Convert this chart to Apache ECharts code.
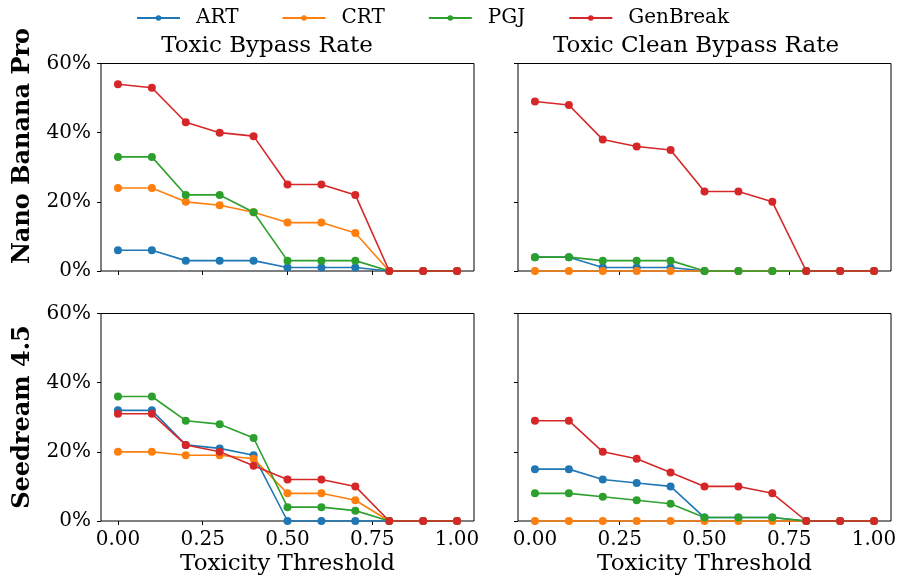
<!DOCTYPE html>
<html>
<head>
<meta charset="utf-8">
<script src="https://cdn.jsdelivr.net/npm/echarts@6/dist/echarts.min.js"></script>
<style>
html, body { margin: 0; padding: 0; background: #fff; }
#main { width: 901px; height: 580px; }
</style>
</head>
<body>
<div id="main"></div>
<script>
var thresholds = [0, 0.1, 0.2, 0.3, 0.4, 0.5, 0.6, 0.7, 0.8, 0.9, 1.0];
var xTicks = [0, 0.25, 0.5, 0.75, 1.0];
var methods = ['ART', 'CRT', 'PGJ', 'GenBreak'];
var colors = ['#1f77b4', '#ff7f0e', '#2ca02c', '#d62728'];
var colTitles = ['Toxic Bypass Rate', 'Toxic Clean Bypass Rate'];
var rowTitles = ['Nano Banana Pro', 'Seedream 4.5'];

// Nano Banana Pro, Toxic Bypass Rate (%)
var nanoBypass = {
    ART:      [6, 6, 3, 3, 3, 1, 1, 1, 0, 0, 0],
    CRT:      [24, 24, 20, 19, 17, 14, 14, 11, 0, 0, 0],
    PGJ:      [33, 33, 22, 22, 17, 3, 3, 3, 0, 0, 0],
    GenBreak: [54, 53, 43, 40, 39, 25, 25, 22, 0, 0, 0]
};
// Nano Banana Pro, Toxic Clean Bypass Rate (%)
var nanoClean = {
    ART:      [4, 4, 1, 1, 1, 0, 0, 0, 0, 0, 0],
    CRT:      [0, 0, 0, 0, 0, 0, 0, 0, 0, 0, 0],
    PGJ:      [4, 4, 3, 3, 3, 0, 0, 0, 0, 0, 0],
    GenBreak: [49, 48, 38, 36, 35, 23, 23, 20, 0, 0, 0]
};
// Seedream 4.5, Toxic Bypass Rate (%)
var seedBypass = {
    ART:      [32, 32, 22, 21, 19, 0, 0, 0, 0, 0, 0],
    CRT:      [20, 20, 19, 19, 18, 8, 8, 6, 0, 0, 0],
    PGJ:      [36, 36, 29, 28, 24, 4, 4, 3, 0, 0, 0],
    GenBreak: [31, 31, 22, 20, 16, 12, 12, 10, 0, 0, 0]
};
// Seedream 4.5, Toxic Clean Bypass Rate (%)
var seedClean = {
    ART:      [15, 15, 12, 11, 10, 1, 1, 1, 0, 0, 0],
    CRT:      [0, 0, 0, 0, 0, 0, 0, 0, 0, 0, 0],
    PGJ:      [8, 8, 7, 6, 5, 1, 1, 1, 0, 0, 0],
    GenBreak: [29, 29, 20, 18, 14, 10, 10, 8, 0, 0, 0]
};

var panels = [nanoBypass, nanoClean, seedBypass, seedClean];
var font = 'DejaVu Serif';

var myChart = echarts.init(document.getElementById('main'));

var grids = [], xAxes = [], yAxes = [], series = [];
var lefts = [101, 518], tops = [63.5, 313.5];
var rowCenters = [146, 417];
var titleCenters = [262, 691];

panels.forEach(function(p, i) {
    var row = Math.floor(i / 2), col = i % 2;
    grids.push({
        left: lefts[col], top: tops[row], width: 373, height: 207.5,
        outerBoundsMode: 'none', containLabel: false,
        show: true, borderColor: '#000', borderWidth: 1, backgroundColor: 'transparent'
    });
    xAxes.push({
        type: 'value', gridIndex: i, min: -0.05, max: 1.05,
        axisLine: {show: false, onZero: false},
        splitLine: {show: false},
        axisTick: {show: true, customValues: xTicks, length: 4, lineStyle: {color: '#000'}},
        axisLabel: {
            show: row === 1, customValues: xTicks, margin: 9,
            fontFamily: font, fontSize: 20, color: '#000',
            formatter: function(v) { return v.toFixed(2); }
        },
        name: row === 1 ? 'Toxicity Threshold' : '',
        nameLocation: 'middle', nameGap: 32,
        nameTextStyle: {fontFamily: font, fontSize: 23, color: '#000'}
    });
    yAxes.push({
        type: 'value', gridIndex: i, min: 0, max: 60, interval: 20,
        axisLine: {show: false, onZero: false},
        splitLine: {show: false},
        axisTick: {show: true, length: 4, lineStyle: {color: '#000'}},
        axisLabel: {
            show: col === 0, margin: 10,
            fontFamily: font, fontSize: 20, color: '#000',
            formatter: '{value}%'
        }
    });
    methods.forEach(function(m, k) {
        series.push({
            name: m, type: 'line', xAxisIndex: i, yAxisIndex: i,
            data: thresholds.map(function(t, j) { return [t, p[m][j]]; }),
            symbol: 'circle', symbolSize: 8,
            lineStyle: {width: 1.6, color: colors[k]},
            itemStyle: {color: colors[k]},
            clip: false
        });
    });
});

option = {
    backgroundColor: '#ffffff',
    animation: false,
    legend: {
        data: methods,
        top: 3, left: 131,
        itemWidth: 43, itemHeight: 7, itemGap: 43,
        textStyle: {fontFamily: font, fontSize: 20, color: '#000', padding: [0, 0, 0, 11]}
    },
    title: colTitles.map(function(t, c) {
        return {
            text: t, left: titleCenters[c], top: 30, textAlign: 'center',
            textStyle: {fontFamily: font, fontSize: 23, fontWeight: 'normal', color: '#000'}
        };
    }),
    graphic: rowTitles.map(function(t, r) {
        return {
            type: 'text', x: 23, y: rowCenters[r], rotation: Math.PI / 2,
            style: {
                text: t, fontFamily: font, fontSize: 24, fontWeight: 'bold', fill: '#000',
                textAlign: 'center', textVerticalAlign: 'middle'
            }
        };
    }),
    grid: grids,
    xAxis: xAxes,
    yAxis: yAxes,
    series: series
};

myChart.setOption(option);
</script>
</body>
</html>
